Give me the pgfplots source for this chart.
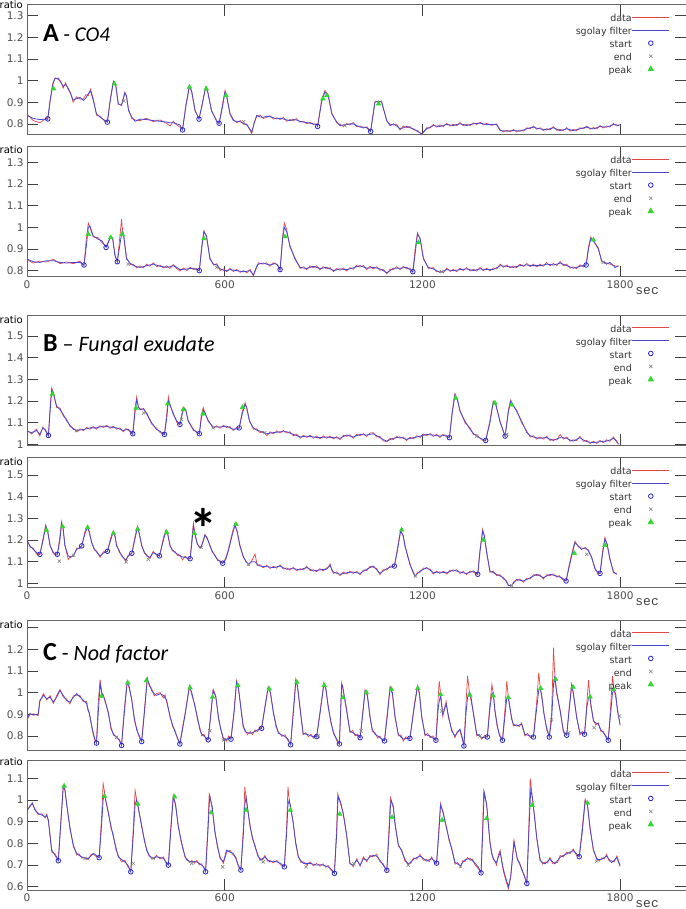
\documentclass[border=0pt]{standalone}
\usepackage{pgfplots}
\usepackage{pgfplotstable}
\pgfplotsset{compat=1.18}
\usepackage{fontspec}
\setmainfont{DejaVu Sans}
\newfontfamily\calf{Carlito}
\newfontfamily\monof{Liberation Mono}
\definecolor{datared}{RGB}{232,70,70}
\definecolor{filtblue}{RGB}{70,70,215}
\definecolor{startblue}{RGB}{40,40,200}
\definecolor{endgrey}{RGB}{130,140,130}
\definecolor{peakgreen}{RGB}{50,215,50}

\pgfplotstableread{
t f d
0 0.839 0.845
19 0.825 0.815
39 0.820 0.805
60 0.822 0.828
63 0.823 0.820
70 0.908 0.900
78 0.980 0.985
85 1.010 1.012
95 1.010 1.005
102 0.993 0.998
110 0.973 0.965
117 0.982 0.990
125 0.965 0.958
132 0.940 0.945
140 0.910 0.900
150 0.916 0.925
161 0.922 0.915
171 0.908 0.915
179 0.920 0.935
186 0.939 0.930
193 0.951 0.960
201 0.910 0.915
211 0.846 0.840
222 0.831 0.835
237 0.815 0.810
244 0.808 0.812
252 0.900 0.905
262 0.993 0.998
269 0.985 0.980
277 0.893 0.890
287 0.885 0.890
297 0.942 0.948
302 0.930 0.925
308 0.862 0.868
318 0.831 0.825
328 0.812 0.818
343 0.822 0.815
363 0.820 0.826
383 0.815 0.810
404 0.812 0.818
424 0.808 0.802
434 0.805 0.790
444 0.805 0.812
454 0.800 0.795
464 0.795 0.785
472 0.772 0.775
482 0.880 0.885
493 0.973 0.978
500 0.950 0.945
510 0.862 0.860
522 0.822 0.825
530 0.880 0.875
542 0.967 0.970
548 0.950 0.955
560 0.862 0.858
576 0.810 0.815
583 0.803 0.800
591 0.860 0.870
601 0.947 0.955
606 0.930 0.925
616 0.846 0.850
626 0.815 0.820
637 0.812 0.805
647 0.810 0.815
657 0.803 0.798
667 0.795 0.800
677 0.775 0.770
682 0.762 0.755
689 0.800 0.805
697 0.839 0.835
707 0.832 0.840
717 0.830 0.825
727 0.835 0.830
737 0.833 0.838
748 0.828 0.822
758 0.823 0.828
768 0.826 0.820
778 0.823 0.830
788 0.818 0.812
798 0.815 0.820
808 0.820 0.815
818 0.818 0.824
828 0.812 0.808
839 0.808 0.812
849 0.806 0.800
859 0.803 0.808
869 0.800 0.797
879 0.797 0.800
882 0.788 0.790
894 0.900 0.910
904 0.947 0.955
914 0.930 0.935
925 0.846 0.850
940 0.808 0.805
950 0.792 0.798
960 0.795 0.788
970 0.797 0.802
980 0.800 0.795
990 0.800 0.806
1000 0.792 0.788
1011 0.785 0.790
1021 0.785 0.780
1031 0.782 0.787
1043 0.765 0.768
1056 0.900 0.905
1066 0.905 0.902
1076 0.900 0.905
1092 0.815 0.812
1102 0.792 0.798
1112 0.800 0.795
1122 0.790 0.798
1132 0.777 0.772
1142 0.782 0.790
1152 0.788 0.782
1162 0.782 0.788
1173 0.777 0.772
1185 0.765 0.770
1198 0.754 0.750
1213 0.777 0.782
1223 0.785 0.780
1233 0.792 0.797
1243 0.790 0.785
1253 0.788 0.795
1264 0.793 0.788
1274 0.797 0.802
1284 0.795 0.790
1294 0.792 0.798
1304 0.797 0.792
1314 0.800 0.806
1324 0.797 0.792
1334 0.792 0.798
1345 0.797 0.793
1355 0.800 0.805
1365 0.802 0.797
1375 0.803 0.808
1385 0.800 0.795
1395 0.797 0.802
1410 0.797 0.793
1425 0.797 0.800
1431 0.785 0.780
1436 0.769 0.772
1446 0.768 0.763
1456 0.766 0.771
1466 0.768 0.763
1476 0.769 0.774
1486 0.768 0.763
1496 0.766 0.772
1507 0.772 0.767
1517 0.777 0.782
1527 0.782 0.777
1537 0.785 0.790
1547 0.780 0.775
1557 0.777 0.782
1567 0.775 0.769
1577 0.772 0.778
1587 0.778 0.772
1597 0.782 0.787
1608 0.775 0.770
1618 0.769 0.775
1628 0.773 0.768
1638 0.777 0.783
1648 0.773 0.766
1658 0.769 0.775
1668 0.773 0.768
1678 0.777 0.782
1689 0.782 0.777
1699 0.785 0.790
1709 0.780 0.775
1719 0.777 0.783
1729 0.782 0.777
1739 0.788 0.792
1749 0.786 0.781
1759 0.785 0.790
1769 0.790 0.785
1780 0.797 0.802
1790 0.795 0.790
1798 0.792 0.797
}\tA

\pgfplotstableread{
t f d
0 0.854 0.850
19 0.841 0.835
39 0.838 0.844
60 0.846 0.840
80 0.846 0.852
100 0.838 0.832
120 0.835 0.840
141 0.838 0.832
161 0.838 0.844
173 0.826 0.822
179 0.900 0.930
186 1.000 1.020
191 1.006 1.000
201 0.960 0.955
216 0.945 0.952
227 0.938 0.930
240 0.907 0.910
247 0.930 0.935
254 0.960 0.955
260 0.950 0.945
267 0.869 0.875
274 0.841 0.838
282 0.920 0.960
287 0.970 1.037
289 0.983 1.000
294 0.960 0.950
302 0.854 0.860
313 0.835 0.828
323 0.823 0.830
333 0.818 0.812
343 0.815 0.822
353 0.818 0.812
363 0.823 0.830
373 0.826 0.820
383 0.830 0.836
394 0.825 0.818
404 0.820 0.826
414 0.818 0.812
424 0.815 0.822
434 0.818 0.810
444 0.823 0.828
454 0.815 0.810
464 0.805 0.798
475 0.806 0.812
485 0.808 0.800
495 0.810 0.815
505 0.811 0.805
515 0.805 0.810
523 0.800 0.798
530 0.900 0.910
537 0.979 0.985
545 0.960 0.955
555 0.854 0.860
566 0.830 0.825
576 0.826 0.832
586 0.808 0.800
596 0.802 0.808
606 0.800 0.795
616 0.805 0.810
626 0.802 0.796
636 0.800 0.806
647 0.797 0.792
657 0.795 0.800
667 0.797 0.790
677 0.800 0.806
687 0.780 0.776
697 0.820 0.815
702 0.830 0.836
717 0.835 0.830
727 0.830 0.836
737 0.826 0.820
747 0.830 0.836
753 0.835 0.830
760 0.825 0.830
768 0.805 0.800
776 0.950 0.960
781 1.000 1.020
788 0.980 0.990
798 0.915 0.910
813 0.854 0.860
829 0.815 0.810
839 0.812 0.818
849 0.810 0.804
859 0.815 0.822
869 0.820 0.813
879 0.815 0.822
889 0.810 0.804
899 0.812 0.818
909 0.815 0.808
920 0.808 0.814
930 0.800 0.795
940 0.804 0.810
950 0.808 0.802
960 0.806 0.812
970 0.805 0.798
980 0.808 0.814
990 0.812 0.806
1000 0.818 0.824
1011 0.823 0.816
1021 0.817 0.824
1031 0.811 0.805
1041 0.813 0.820
1051 0.815 0.808
1061 0.812 0.818
1071 0.808 0.802
1081 0.800 0.806
1092 0.790 0.785
1102 0.800 0.807
1112 0.811 0.805
1122 0.811 0.818
1132 0.811 0.805
1142 0.813 0.820
1152 0.815 0.808
1162 0.805 0.812
1171 0.795 0.792
1178 0.880 0.900
1185 0.968 0.975
1193 0.950 0.945
1203 0.854 0.860
1218 0.815 0.810
1233 0.808 0.814
1243 0.800 0.794
1253 0.792 0.798
1264 0.798 0.791
1274 0.805 0.812
1284 0.802 0.796
1294 0.800 0.806
1304 0.802 0.795
1314 0.805 0.812
1324 0.806 0.800
1334 0.808 0.814
1345 0.804 0.798
1355 0.800 0.806
1365 0.804 0.798
1375 0.808 0.815
1385 0.806 0.800
1395 0.805 0.811
1405 0.805 0.799
1415 0.805 0.812
1426 0.814 0.808
1436 0.823 0.830
1446 0.821 0.815
1456 0.820 0.826
1466 0.818 0.812
1476 0.815 0.822
1486 0.819 0.813
1496 0.823 0.830
1507 0.825 0.819
1517 0.826 0.833
1527 0.824 0.818
1537 0.823 0.830
1547 0.823 0.817
1557 0.823 0.830
1567 0.826 0.820
1577 0.830 0.838
1587 0.828 0.822
1597 0.826 0.833
1608 0.830 0.824
1618 0.835 0.842
1628 0.829 0.823
1638 0.823 0.830
1648 0.817 0.811
1658 0.811 0.818
1668 0.815 0.809
1678 0.820 0.827
1688 0.823 0.817
1697 0.826 0.830
1704 0.900 0.910
1711 0.948 0.955
1719 0.940 0.935
1734 0.900 0.905
1744 0.846 0.840
1759 0.830 0.836
1769 0.838 0.830
1785 0.815 0.822
1795 0.823 0.818
}\tAA

\pgfplotstableread{
t f d
0 1.061 1.065
14 1.054 1.048
29 1.064 1.070
39 1.046 1.040
48 1.076 1.080
55 1.069 1.064
65 1.041 1.038
70 1.150 1.170
75 1.252 1.260
80 1.235 1.240
90 1.176 1.170
100 1.161 1.168
110 1.138 1.132
120 1.110 1.116
130 1.089 1.084
141 1.069 1.074
151 1.064 1.058
161 1.066 1.072
171 1.069 1.063
181 1.072 1.078
191 1.076 1.070
201 1.076 1.082
211 1.076 1.070
221 1.080 1.086
232 1.084 1.078
242 1.082 1.088
252 1.080 1.074
262 1.078 1.084
272 1.076 1.070
282 1.070 1.076
292 1.064 1.058
300 1.067 1.073
308 1.069 1.064
321 1.049 1.046
328 1.150 1.170
333 1.205 1.220
338 1.175 1.170
343 1.160 1.165
354 1.165 1.160
364 1.138 1.144
378 1.100 1.094
393 1.069 1.075
404 1.060 1.054
417 1.046 1.044
424 1.120 1.140
429 1.200 1.220
434 1.185 1.180
444 1.138 1.144
455 1.107 1.100
464 1.092 1.090
471 1.140 1.145
476 1.168 1.172
482 1.160 1.155
489 1.107 1.112
505 1.069 1.064
515 1.055 1.060
523 1.049 1.046
529 1.120 1.135
535 1.158 1.170
542 1.140 1.135
550 1.107 1.112
565 1.080 1.074
575 1.080 1.086
586 1.080 1.074
596 1.082 1.088
606 1.084 1.078
616 1.076 1.082
626 1.069 1.064
636 1.072 1.078
644 1.076 1.074
653 1.140 1.150
662 1.185 1.192
667 1.170 1.165
675 1.107 1.112
687 1.076 1.070
697 1.066 1.072
707 1.061 1.054
717 1.054 1.060
728 1.049 1.040
738 1.052 1.058
748 1.054 1.048
758 1.056 1.062
768 1.058 1.052
778 1.058 1.064
789 1.058 1.052
798 1.052 1.058
808 1.046 1.040
819 1.040 1.046
829 1.034 1.028
839 1.036 1.042
849 1.038 1.032
859 1.036 1.042
869 1.034 1.028
879 1.032 1.038
889 1.031 1.025
899 1.033 1.039
909 1.034 1.028
920 1.032 1.038
930 1.031 1.025
940 1.030 1.036
950 1.028 1.022
960 1.036 1.042
970 1.043 1.037
980 1.038 1.044
990 1.034 1.028
1000 1.040 1.046
1011 1.046 1.040
1021 1.044 1.050
1031 1.043 1.037
1041 1.046 1.052
1051 1.049 1.054
1061 1.040 1.034
1071 1.031 1.037
1081 1.022 1.016
1092 1.015 1.012
1102 1.022 1.028
1112 1.028 1.022
1122 1.031 1.037
1132 1.034 1.028
1142 1.028 1.034
1152 1.023 1.017
1162 1.027 1.033
1173 1.031 1.025
1183 1.034 1.040
1193 1.038 1.032
1203 1.042 1.048
1213 1.046 1.040
1223 1.044 1.050
1233 1.043 1.037
1243 1.040 1.046
1253 1.038 1.032
1262 1.040 1.046
1269 1.043 1.038
1282 1.031 1.030
1291 1.150 1.160
1299 1.229 1.235
1306 1.210 1.205
1314 1.153 1.158
1329 1.107 1.100
1345 1.069 1.075
1355 1.050 1.044
1365 1.038 1.044
1380 1.025 1.020
1392 1.018 1.016
1405 1.100 1.110
1415 1.195 1.200
1422 1.190 1.185
1436 1.100 1.106
1451 1.038 1.036
1461 1.150 1.160
1468 1.199 1.205
1476 1.180 1.175
1486 1.153 1.158
1501 1.107 1.100
1517 1.054 1.060
1527 1.040 1.034
1537 1.034 1.040
1547 1.030 1.024
1557 1.028 1.034
1567 1.030 1.024
1577 1.031 1.037
1587 1.024 1.018
1597 1.018 1.024
1608 1.025 1.020
1618 1.031 1.046
1628 1.030 1.024
1638 1.028 1.034
1648 1.020 1.014
1658 1.015 1.021
1668 1.023 1.017
1678 1.031 1.037
1689 1.020 1.014
1699 1.012 1.018
1709 1.010 1.004
1719 1.008 1.014
1729 1.010 1.004
1739 1.012 1.018
1749 1.014 1.008
1759 1.015 1.021
1769 1.020 1.014
1780 1.028 1.034
1790 1.015 1.010
1795 1.000 1.004
}\tB

\pgfplotstableread{
t f d
0 1.196 1.205
9 1.173 1.168
19 1.157 1.162
29 1.142 1.136
39 1.134 1.132
49 1.200 1.210
57 1.265 1.270
63 1.240 1.235
70 1.173 1.178
80 1.142 1.136
92 1.134 1.130
100 1.200 1.220
105 1.278 1.285
110 1.250 1.245
115 1.173 1.178
125 1.127 1.110
133 1.120 1.126
141 1.130 1.124
151 1.157 1.163
160 1.165 1.160
166 1.173 1.170
176 1.230 1.240
183 1.258 1.262
189 1.240 1.235
196 1.188 1.193
204 1.160 1.154
211 1.145 1.150
222 1.127 1.120
232 1.140 1.146
244 1.148 1.146
254 1.200 1.210
262 1.238 1.242
267 1.220 1.215
272 1.173 1.178
280 1.150 1.144
287 1.127 1.132
300 1.108 1.102
307 1.125 1.130
318 1.139 1.137
327 1.200 1.210
335 1.258 1.264
341 1.230 1.225
348 1.173 1.178
356 1.145 1.140
363 1.127 1.132
373 1.120 1.114
383 1.142 1.148
393 1.135 1.130
402 1.127 1.125
414 1.200 1.210
422 1.242 1.248
427 1.230 1.225
434 1.173 1.178
441 1.155 1.150
449 1.142 1.148
457 1.135 1.128
464 1.127 1.132
472 1.122 1.108
480 1.120 1.126
488 1.117 1.112
495 1.114 1.112
500 1.180 1.200
505 1.265 1.278
511 1.220 1.215
517 1.180 1.185
523 1.170 1.164
528 1.165 1.168
534 1.190 1.195
540 1.222 1.226
547 1.210 1.205
555 1.173 1.178
562 1.150 1.144
570 1.127 1.132
578 1.112 1.106
586 1.100 1.104
594 1.093 1.092
603 1.110 1.116
611 1.150 1.155
624 1.230 1.240
631 1.268 1.272
638 1.240 1.235
646 1.173 1.178
656 1.127 1.122
664 1.100 1.105
672 1.088 1.084
682 1.100 1.104
692 1.100 1.135
699 1.088 1.082
707 1.080 1.086
717 1.078 1.072
728 1.077 1.083
738 1.075 1.069
748 1.073 1.079
758 1.076 1.070
768 1.080 1.086
778 1.072 1.066
788 1.065 1.071
798 1.067 1.061
808 1.068 1.074
819 1.065 1.059
829 1.062 1.068
839 1.068 1.062
849 1.073 1.079
859 1.065 1.059
869 1.057 1.063
879 1.060 1.054
889 1.062 1.068
899 1.064 1.058
909 1.065 1.071
915 1.075 1.078
920 1.083 1.090
925 1.065 1.060
930 1.052 1.046
940 1.047 1.053
950 1.042 1.036
960 1.046 1.052
970 1.049 1.043
980 1.051 1.057
990 1.052 1.046
1001 1.049 1.055
1011 1.046 1.040
1021 1.056 1.062
1031 1.065 1.059
1041 1.073 1.079
1051 1.080 1.074
1061 1.063 1.069
1071 1.046 1.040
1081 1.057 1.063
1092 1.068 1.062
1102 1.074 1.080
1115 1.080 1.078
1124 1.150 1.160
1134 1.242 1.248
1142 1.220 1.215
1147 1.173 1.178
1155 1.130 1.124
1162 1.088 1.094
1170 1.060 1.054
1178 1.034 1.030
1185 1.045 1.052
1193 1.057 1.051
1203 1.065 1.071
1213 1.073 1.067
1223 1.061 1.067
1233 1.049 1.043
1243 1.051 1.057
1253 1.052 1.046
1264 1.050 1.056
1274 1.049 1.043
1284 1.055 1.061
1294 1.062 1.056
1304 1.057 1.063
1314 1.052 1.046
1324 1.049 1.055
1334 1.046 1.040
1345 1.051 1.057
1355 1.057 1.051
1368 1.042 1.040
1375 1.150 1.160
1383 1.242 1.250
1388 1.220 1.215
1395 1.142 1.148
1405 1.057 1.051
1415 1.050 1.056
1425 1.042 1.036
1436 1.034 1.040
1446 1.026 1.020
1454 1.010 1.014
1461 0.990 0.992
1471 0.990 0.988
1478 1.004 1.010
1486 1.018 1.012
1496 1.014 1.020
1506 1.011 1.005
1517 1.018 1.024
1527 1.026 1.020
1537 1.034 1.040
1547 1.042 1.036
1557 1.034 1.040
1567 1.026 1.020
1577 1.034 1.040
1587 1.042 1.036
1597 1.038 1.044
1608 1.034 1.028
1615 1.030 1.036
1623 1.026 1.020
1636 1.011 1.010
1646 1.080 1.090
1653 1.127 1.135
1663 1.188 1.195
1673 1.173 1.168
1683 1.157 1.163
1694 1.165 1.160
1704 1.150 1.155
1714 1.120 1.115
1724 1.065 1.070
1732 1.052 1.047
1739 1.046 1.044
1747 1.140 1.150
1754 1.204 1.212
1761 1.180 1.175
1769 1.111 1.116
1780 1.053 1.048
1790 1.042 1.046
}\tBB

\pgfplotstableread{
t f d
0 0.881 0.875
9 0.903 0.898
19 0.896 0.902
34 0.900 0.894
39 0.964 0.958
50 0.987 0.995
60 0.972 0.966
70 0.979 0.986
80 0.956 0.950
90 0.979 0.986
100 1.010 1.014
110 0.987 0.980
120 0.964 0.970
130 0.956 0.948
141 0.979 0.985
151 0.995 0.988
161 0.979 0.986
171 0.964 0.958
181 0.949 0.960
185 0.925 0.915
189 0.903 0.910
199 0.827 0.820
205 0.790 0.782
211 0.767 0.770
216 0.900 0.950
222 1.040 1.060
227 1.000 0.995
232 0.980 0.990
237 0.964 0.958
247 0.903 0.910
255 0.840 0.830
262 0.805 0.812
272 0.795 0.790
280 0.780 0.785
287 0.756 0.760
295 0.900 0.920
304 1.048 1.055
310 1.030 1.020
318 0.964 0.970
326 0.880 0.870
333 0.827 0.835
341 0.800 0.790
348 0.774 0.778
356 0.900 0.915
365 1.063 1.068
371 1.040 1.030
378 1.010 1.020
386 0.995 0.985
393 0.987 0.995
404 0.995 1.000
414 0.987 0.975
419 0.975 0.990
424 0.964 0.955
434 0.888 0.895
442 0.850 0.842
449 0.820 0.826
457 0.790 0.785
464 0.763 0.766
472 0.830 0.840
480 0.900 0.905
493 1.028 1.032
500 1.000 0.990
510 0.934 0.940
518 0.880 0.870
525 0.827 0.835
530 0.810 0.800
537 0.800 0.808
544 0.790 0.780
550 0.782 0.786
558 0.900 0.910
565 1.010 1.015
573 0.980 0.985
581 0.888 0.880
588 0.830 0.835
596 0.790 0.782
601 0.780 0.790
606 0.785 0.776
612 0.790 0.800
619 0.785 0.788
628 0.900 0.910
636 1.048 1.055
642 1.020 1.012
651 0.903 0.910
656 0.850 0.840
662 0.820 0.828
669 0.815 0.806
677 0.812 0.820
684 0.815 0.806
692 0.820 0.828
700 0.828 0.820
706 0.832 0.840
712 0.835 0.835
722 0.930 0.935
732 1.022 1.028
739 1.000 0.995
748 0.903 0.910
756 0.850 0.840
763 0.812 0.820
773 0.805 0.798
783 0.797 0.805
792 0.785 0.778
800 0.759 0.762
808 0.900 0.915
816 1.056 1.062
821 1.030 1.025
828 0.934 0.940
838 0.812 0.805
846 0.808 0.815
854 0.805 0.796
862 0.800 0.808
869 0.797 0.790
875 0.797 0.806
879 0.797 0.795
889 0.900 0.910
901 1.040 1.045
907 1.020 1.012
914 0.934 0.942
922 0.870 0.862
930 0.812 0.820
940 0.785 0.778
948 0.763 0.760
955 1.038 1.045
958 1.030 1.022
970 0.915 0.925
980 0.823 0.815
988 0.815 0.826
996 0.808 0.800
1004 0.800 0.808
1011 0.792 0.790
1019 0.900 0.910
1026 1.008 1.012
1033 0.990 0.984
1041 0.885 0.892
1048 0.830 0.820
1056 0.808 0.816
1064 0.800 0.790
1071 0.792 0.800
1078 0.785 0.778
1085 0.777 0.780
1094 0.900 0.915
1102 1.023 1.028
1109 1.000 0.990
1117 0.885 0.892
1127 0.808 0.800
1135 0.795 0.805
1142 0.785 0.776
1150 0.788 0.796
1162 0.789 0.786
1175 0.930 0.940
1185 1.026 1.032
1191 1.000 0.990
1198 0.885 0.890
1208 0.808 0.800
1216 0.803 0.812
1223 0.800 0.792
1232 0.790 0.800
1241 0.780 0.778
1248 0.930 0.980
1251 0.960 1.054
1255 0.985 1.000
1262 0.900 0.890
1272 0.946 0.960
1279 0.892 0.885
1289 0.823 0.830
1299 0.800 0.792
1306 0.815 0.822
1314 0.831 0.825
1320 0.800 0.790
1326 0.754 0.758
1332 0.900 0.940
1337 0.980 1.077
1342 1.000 1.010
1348 0.975 0.960
1355 0.900 0.905
1365 0.808 0.800
1372 0.800 0.808
1380 0.792 0.785
1389 0.794 0.802
1397 0.795 0.794
1405 0.930 0.950
1411 0.995 1.038
1415 1.000 0.995
1420 0.920 0.915
1427 0.850 0.842
1434 0.800 0.806
1443 0.780 0.782
1451 0.900 0.930
1456 0.975 1.054
1460 0.985 0.990
1466 0.930 0.920
1471 0.877 0.885
1476 0.854 0.846
1486 0.846 0.852
1494 0.850 0.843
1501 0.854 0.860
1511 0.808 0.800
1519 0.804 0.812
1527 0.800 0.793
1537 0.795 0.797
1547 0.930 0.960
1553 1.010 1.092
1557 1.023 1.030
1562 0.990 0.980
1569 0.900 0.905
1577 0.838 0.830
1585 0.795 0.797
1592 0.874 0.900
1598 1.040 1.208
1601 1.069 1.100
1608 1.000 0.990
1618 0.915 0.920
1628 0.823 0.815
1638 0.803 0.806
1646 0.930 0.940
1653 1.031 1.040
1658 1.000 0.992
1668 0.885 0.892
1678 0.815 0.805
1685 0.812 0.820
1692 0.808 0.809
1699 0.930 0.950
1704 0.975 1.057
1708 0.985 0.990
1711 0.950 0.940
1719 0.869 0.875
1726 0.860 0.850
1734 0.854 0.860
1741 0.830 0.822
1749 0.815 0.822
1757 0.800 0.792
1764 0.780 0.782
1771 0.900 0.930
1777 1.000 1.077
1782 1.015 1.010
1787 0.990 0.975
1792 0.915 0.925
1800 0.854 0.848
}\tC

\pgfplotstableread{
t f d
0 0.954 0.948
9 0.969 0.975
16 0.988 0.982
24 0.954 0.960
34 0.938 0.932
45 0.931 0.937
55 0.923 0.918
60 0.930 0.935
65 0.908 0.900
70 0.831 0.840
75 0.769 0.760
85 0.746 0.752
95 0.720 0.724
103 0.900 0.910
110 1.062 1.068
115 1.050 1.045
120 0.985 0.990
130 0.877 0.870
141 0.785 0.792
151 0.754 0.746
158 0.745 0.752
166 0.738 0.732
176 0.731 0.736
186 0.731 0.725
194 0.742 0.748
201 0.754 0.750
210 0.745 0.740
219 0.734 0.736
227 0.900 0.940
231 1.000 1.077
235 1.030 1.040
239 1.000 0.995
247 0.938 0.945
255 0.880 0.870
262 0.831 0.840
270 0.780 0.770
277 0.738 0.745
287 0.725 0.715
297 0.715 0.722
306 0.700 0.693
315 0.669 0.672
323 0.850 0.880
328 0.980 1.046
333 1.000 1.000
336 0.980 0.975
348 0.877 0.885
356 0.820 0.812
363 0.769 0.775
371 0.745 0.738
378 0.731 0.738
386 0.735 0.728
393 0.738 0.745
404 0.735 0.728
414 0.731 0.738
422 0.715 0.708
429 0.700 0.702
436 0.850 0.870
444 1.015 1.022
451 0.980 0.972
459 0.877 0.885
467 0.820 0.812
474 0.769 0.776
480 0.740 0.733
485 0.723 0.730
493 0.718 0.712
500 0.715 0.722
508 0.716 0.709
515 0.715 0.722
523 0.708 0.701
530 0.700 0.706
537 0.690 0.684
542 0.669 0.672
549 0.850 0.880
553 0.980 1.030
555 1.015 1.020
562 0.970 0.960
570 0.854 0.862
578 0.790 0.782
586 0.731 0.738
596 0.715 0.708
606 0.769 0.760
616 0.760 0.768
626 0.754 0.746
634 0.730 0.738
641 0.700 0.694
649 0.677 0.680
657 0.850 0.880
661 0.980 1.062
665 1.015 1.010
669 0.970 0.960
677 0.877 0.885
684 0.830 0.822
692 0.785 0.792
700 0.750 0.742
707 0.723 0.730
715 0.730 0.724
722 0.738 0.745
730 0.725 0.718
737 0.715 0.722
747 0.718 0.710
758 0.715 0.722
770 0.708 0.700
781 0.692 0.694
788 0.850 0.880
792 0.980 1.062
796 1.000 0.995
800 0.970 0.960
808 0.892 0.900
815 0.810 0.802
823 0.738 0.745
831 0.720 0.712
839 0.708 0.715
849 0.708 0.700
859 0.708 0.715
869 0.704 0.697
879 0.700 0.707
889 0.702 0.695
899 0.700 0.706
906 0.696 0.690
914 0.692 0.698
924 0.680 0.674
933 0.662 0.665
940 0.850 0.880
943 0.980 1.030
945 1.015 1.020
952 0.990 0.980
960 0.933 0.940
970 0.842 0.835
980 0.706 0.712
990 0.700 0.692
1001 0.723 0.730
1011 0.700 0.694
1021 0.730 0.738
1031 0.723 0.716
1041 0.738 0.745
1051 0.745 0.738
1061 0.742 0.750
1071 0.723 0.716
1081 0.700 0.706
1092 0.676 0.672
1099 0.850 0.880
1103 0.970 1.010
1105 1.000 1.000
1112 0.970 0.962
1117 0.886 0.895
1127 0.795 0.788
1137 0.765 0.772
1147 0.726 0.718
1157 0.703 0.708
1165 0.715 0.708
1173 0.726 0.733
1183 0.735 0.728
1193 0.742 0.750
1203 0.730 0.722
1213 0.718 0.726
1221 0.725 0.716
1228 0.730 0.738
1236 0.720 0.712
1243 0.709 0.706
1250 0.850 0.870
1255 0.976 0.985
1262 0.950 0.944
1274 0.864 0.872
1281 0.820 0.812
1289 0.773 0.780
1299 0.712 0.704
1307 0.705 0.712
1316 0.697 0.690
1322 0.712 0.720
1329 0.724 0.716
1337 0.728 0.735
1345 0.730 0.722
1352 0.720 0.728
1360 0.708 0.700
1370 0.690 0.683
1378 0.664 0.665
1383 0.850 0.880
1386 0.980 1.045
1388 1.032 1.035
1395 0.980 0.975
1405 0.803 0.810
1410 0.760 0.752
1415 0.727 0.734
1425 0.712 0.700
1430 0.735 0.745
1436 0.758 0.768
1441 0.720 0.712
1446 0.679 0.670
1455 0.630 0.620
1461 0.600 0.590
1468 0.645 0.650
1478 0.805 0.815
1488 0.730 0.725
1495 0.705 0.712
1501 0.685 0.678
1509 0.650 0.655
1517 0.615 0.615
1523 0.850 0.880
1527 0.990 1.100
1529 1.050 1.080
1535 1.000 0.990
1541 0.910 0.918
1547 0.827 0.820
1557 0.721 0.730
1565 0.712 0.704
1572 0.706 0.714
1580 0.718 0.710
1587 0.727 0.735
1595 0.715 0.708
1602 0.706 0.713
1610 0.720 0.712
1618 0.736 0.744
1628 0.745 0.738
1638 0.752 0.760
1648 0.760 0.753
1658 0.767 0.774
1668 0.752 0.744
1676 0.739 0.740
1685 0.850 0.870
1694 0.997 1.005
1701 0.980 0.974
1709 0.864 0.872
1719 0.773 0.765
1729 0.727 0.734
1737 0.725 0.718
1744 0.727 0.734
1752 0.735 0.728
1759 0.742 0.750
1767 0.725 0.718
1774 0.712 0.720
1782 0.722 0.715
1790 0.735 0.742
1800 0.694 0.700
}\tCC

\pgfplotsset{
  panel/.style={
    scale only axis, width=659pt, height=130pt, anchor=north west,
    xmin=0, xmax=2000, xtick={0,600,1200,1800},
    axis line style={draw=black!60, line width=0.6pt},
    tick style={draw=black!75, line width=0.6pt},
    major tick length=11pt, tick align=inside,
    ticklabel style={font=\fontsize{10.5}{12}\selectfont, text=black!70},
    /pgf/number format/assume math mode=true,
    clip mode=individual,
    legend plot pos=right, legend cell align=right,
    legend style={draw=none, fill=none, at={(axis description cs:0.9757,1)},
      anchor=north east, yshift=-9.5pt, font=\fontsize{9.5}{11}\selectfont,
      text=black!80, inner sep=0pt, row sep=3.5pt,
      nodes={inner sep=0pt, text height=7.5pt, text depth=2pt},
      /tikz/every even column/.append style={column sep=8pt}},
    legend image code/.code={\draw[mark repeat=2,mark phase=2,#1] plot coordinates {(0pt,2pt) (18.5pt,2pt) (37pt,2pt)};},
    legend image post style={line width=1pt},
  },
  dataline/.style={draw=datared, line width=0.7pt, no markers},
  filtline/.style={draw=filtblue, line width=0.8pt, no markers},
  startm/.style={only marks, mark=o, mark size=2.3pt, mark options={draw=startblue, line width=0.8pt}},
  endm/.style={only marks, mark=x, mark size=2.3pt, mark options={draw=endgrey, line width=0.6pt}},
  peakm/.style={only marks, mark=triangle*, mark size=2.7pt, mark options={draw=peakgreen, fill=peakgreen}},
}

\newcommand{\ratiolabel}[1]{\node[anchor=east, font=\fontsize{10}{12}\selectfont, inner sep=0pt] at (rel axis cs:0,1) [xshift=-4pt, yshift=#1] {ratio};}
\newcommand{\seclabel}{\node[anchor=center, font=\monof\fontsize{13}{14}\selectfont, text=black!75, inner sep=0pt] at (rel axis cs:0.941,0) [yshift=-14pt] {sec};}

\begin{document}
\begin{tikzpicture}
% ---------------- A top
\begin{axis}[panel, at={(27pt,-4.7pt)}, ymin=0.75, ymax=1.35,
  ytick={0.8,0.9,1,1.1,1.2,1.3}, yticklabels={0.8,0.9,1,1.1,1.2,1.3}, xticklabels={}]
\addplot[dataline] table[x=t,y=d]{\tA};
\addplot[filtline] table[x=t,y=f]{\tA};
\addplot[startm] coordinates {(63,0.823) (244,0.808) (472,0.772) (522,0.822) (583,0.803) (882,0.788) (1043,0.765)};
\addplot[endm] coordinates {(294,0.905) (657,0.81) (965,0.792)};
\addplot[peakm] coordinates {(80,0.962) (265,0.985) (493,0.97) (544,0.962) (604,0.931) (898,0.916) (910,0.931) (1067,0.893)};
\legend{data,sgolay filter,start,end,peak}
\ratiolabel{0pt}
\node[anchor=base west, inner sep=0pt] at (rel axis cs:0,1) [xshift=16pt, yshift=-37pt]
  {\calf\fontsize{26}{26}\selectfont\bfseries A\fontsize{21}{21}\selectfont\mdseries\ - \itshape CO4};
\end{axis}
% ---------------- A bottom
\begin{axis}[panel, at={(27pt,-146.7pt)}, ymin=0.772, ymax=1.372,
  ytick={0.8,0.9,1,1.1,1.2,1.3}, yticklabels={0.8,0.9,1,1.1,1.2,1.3}, xticklabels={0,600,1200,1800}]
\addplot[dataline] table[x=t,y=d]{\tAA};
\addplot[filtline] table[x=t,y=f]{\tAA};
\addplot[startm] coordinates {(173,0.826) (240,0.907) (274,0.841) (523,0.80) (768,0.805) (1171,0.795) (1697,0.826)};
\addplot[endm] coordinates {(307,0.83) (576,0.815) (1259,0.795) (1749,0.838)};
\addplot[peakm] coordinates {(186,0.968) (254,0.953) (289,0.968) (537,0.948) (783,0.957) (1188,0.93) (1719,0.942)};
\legend{data,sgolay filter,start,end,peak}
\ratiolabel{-3pt}
\seclabel
\end{axis}
% ---------------- B top
\begin{axis}[panel, at={(27pt,-315pt)}, ymin=0.997, ymax=1.597,
  ytick={1,1.1,1.2,1.3,1.4,1.5}, yticklabels={1,1.1,1.2,1.3,1.4,1.5}, xticklabels={}]
\addplot[dataline] table[x=t,y=d]{\tB};
\addplot[filtline] table[x=t,y=f]{\tB};
\addplot[startm] coordinates {(65,1.041) (321,1.049) (417,1.046) (464,1.092) (523,1.049) (644,1.076) (1282,1.031) (1392,1.018) (1451,1.038)};
\addplot[endm] coordinates {(151,1.064) (354,1.145) (469,1.115) (565,1.076) (722,1.054) (1365,1.038) (1456,1.046)};
\addplot[peakm] coordinates {(77,1.232) (331,1.168) (427,1.187) (474,1.161) (534,1.141) (654,1.171) (1301,1.214) (1420,1.191) (1471,1.183)};
\legend{data,sgolay filter,start,end,peak}
\ratiolabel{-5pt}
\node[anchor=base west, inner sep=0pt] at (rel axis cs:0,1) [xshift=16pt, yshift=-36.7pt]
  {\calf\fontsize{26}{26}\selectfont\bfseries B\fontsize{22}{22}\selectfont\mdseries\ – \itshape Fungal exudate};
\end{axis}
% ---------------- B bottom
\begin{axis}[panel, at={(27pt,-457.7pt)}, ymin=0.98, ymax=1.58,
  ytick={1,1.1,1.2,1.3,1.4,1.5}, yticklabels={1,1.1,1.2,1.3,1.4,1.5}, xticklabels={0,600,1200,1800}]
\addplot[dataline] table[x=t,y=d]{\tBB};
\addplot[filtline] table[x=t,y=f]{\tBB};
\addplot[startm] coordinates {(39,1.134) (92,1.134) (166,1.173) (244,1.148) (318,1.139) (402,1.127) (495,1.114) (594,1.093) (1115,1.08) (1368,1.042) (1636,1.011) (1739,1.046)};
\addplot[endm] coordinates {(98,1.103) (141,1.13) (301,1.099) (368,1.111) (529,1.165) (672,1.088) (1179,1.034) (1470,0.99) (1699,1.134)};
\addplot[peakm] coordinates {(59,1.245) (108,1.262) (184,1.258) (262,1.231) (336,1.25) (424,1.235) (508,1.231) (634,1.273) (1137,1.247) (1385,1.2) (1661,1.139) (1754,1.176)};
\legend{data,sgolay filter,start,end,peak}
\ratiolabel{-4pt}
\seclabel
\node[inner sep=0pt, font=\calf\bfseries\fontsize{56}{56}\selectfont] at (axis cs:537,1.255) {*};
\end{axis}
% ---------------- C top
\begin{axis}[panel, at={(27pt,-620pt)}, ymin=0.735, ymax=1.335,
  ytick={0.8,0.9,1,1.1,1.2,1.3}, yticklabels={0.8,0.9,1,1.1,1.2,{}}, xticklabels={}]
\addplot[dataline] table[x=t,y=d]{\tC};
\addplot[filtline] table[x=t,y=f]{\tC};
\addplot[startm] coordinates {(211,0.767) (287,0.756) (348,0.774) (464,0.763) (550,0.782) (619,0.785) (712,0.835) (800,0.759) (879,0.797) (948,0.763) (1011,0.792) (1085,0.777) (1162,0.789) (1241,0.78) (1326,0.754) (1397,0.795) (1443,0.78) (1537,0.795) (1585,0.795) (1638,0.803) (1692,0.808) (1764,0.78)};
\addplot[endm] coordinates {(272,0.794) (555,0.824) (596,0.78) (884,0.80) (1014,0.823) (1259,0.915) (1375,0.80) (1592,0.874) (1644,0.815) (1721,0.838) (1798,0.892)};
\addplot[peakm] coordinates {(226,0.983) (306,1.045) (362,1.055) (495,1.022) (563,0.979) (640,1.033) (735,1.017) (819,1.048) (902,1.033) (959,0.977) (1030,1.0) (1106,1.015) (1186,1.02) (1255,0.992) (1344,0.989) (1415,0.985) (1461,0.977) (1559,1.02) (1604,1.062) (1657,1.026) (1709,0.98) (1780,1.015)};
\legend{data,sgolay filter,start,end,peak}
\ratiolabel{-5pt}
\node[anchor=base west, inner sep=0pt] at (rel axis cs:0,1) [xshift=16pt, yshift=-40pt]
  {\calf\fontsize{26}{26}\selectfont\bfseries C\fontsize{22}{22}\selectfont\mdseries\ - \itshape Nod factor};
\end{axis}
% ---------------- C bottom
\begin{axis}[panel, at={(27pt,-760pt)}, ymin=0.585, ymax=1.185,
  ytick={0.6,0.7,0.8,0.9,1,1.1}, yticklabels={0.6,0.7,0.8,0.9,1,1.1}, xticklabels={0,600,1200,1800}]
\addplot[dataline] table[x=t,y=d]{\tCC};
\addplot[filtline] table[x=t,y=f]{\tCC};
\addplot[startm] coordinates {(95,0.72) (219,0.734) (315,0.669) (429,0.7) (542,0.669) (649,0.677) (781,0.692) (933,0.662) (1092,0.676) (1243,0.709) (1378,0.664) (1517,0.615) (1676,0.739)};
\addplot[endm] coordinates {(176,0.731) (323,0.708) (383,0.731) (500,0.708) (594,0.692) (717,0.715) (847,0.692) (992,0.706) (1157,0.70) (1316,0.694) (1729,0.718)};
\addplot[peakm] coordinates {(113,1.065) (235,1.018) (336,0.982) (448,1.015) (559,0.942) (665,0.954) (799,0.954) (949,0.935) (1108,0.921) (1260,0.908) (1395,0.915) (1533,0.976) (1701,0.986)};
\legend{data,sgolay filter,start,end,peak}
\ratiolabel{-2pt}
\seclabel
\end{axis}
\pgfresetboundingbox
\path[use as bounding box] (0pt,0pt) rectangle (685pt,-909pt);
\end{tikzpicture}
\end{document}
